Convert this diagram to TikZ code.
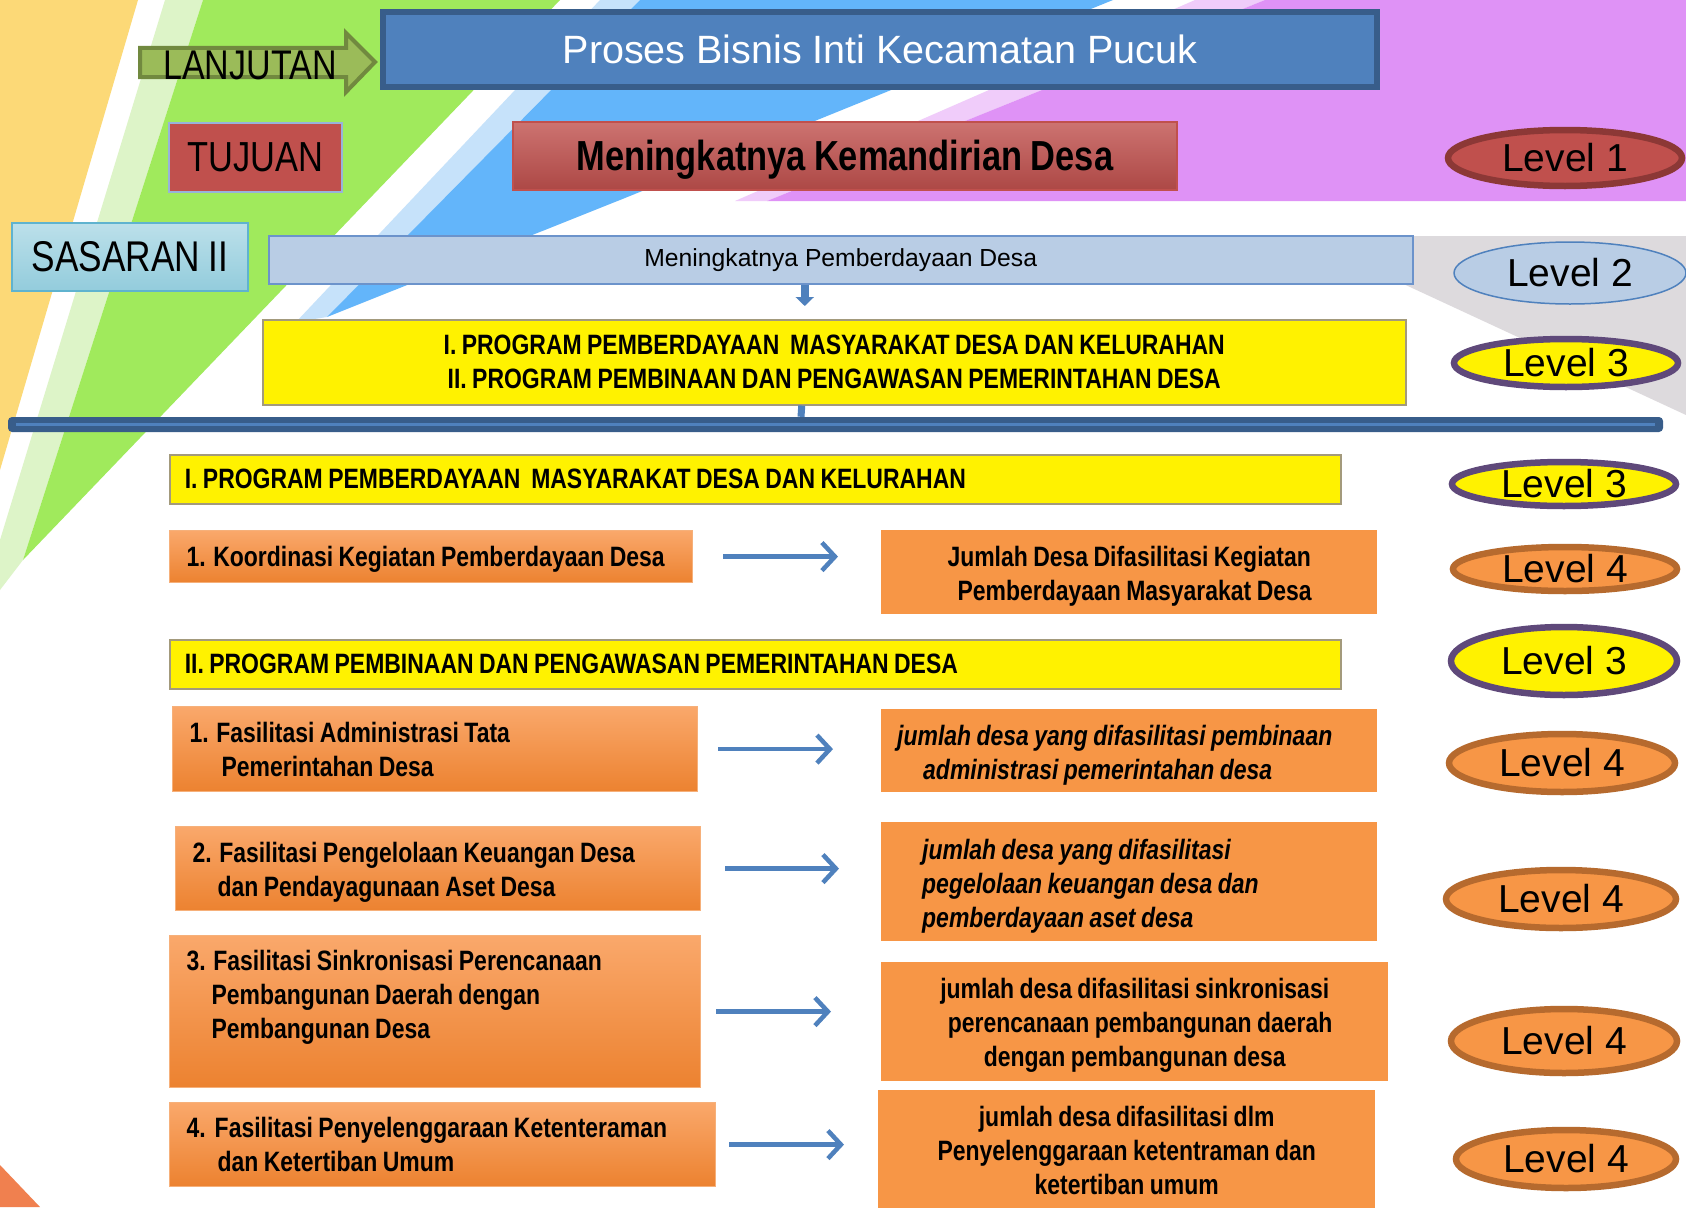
\documentclass[tikz,border=0pt]{standalone}
\usepackage{fontspec}
\setmainfont{Liberation Sans}
\newfontfamily\narrowfont[FakeStretch=0.82, WordSpace=0.85]{Liberation Sans}
\usetikzlibrary{shapes.geometric, arrows.meta}

\definecolor{bgyellow}{HTML}{FCD977}
\definecolor{bggreen}{HTML}{A0EA5C}
\definecolor{bgpalegreen}{HTML}{DDF4C8}
\definecolor{bgblue}{HTML}{63B5FA}
\definecolor{bglightblue}{HTML}{C6E2FA}
\definecolor{bgpurple}{HTML}{DF92F6}
\definecolor{bglightpurple}{HTML}{F0CCFA}
\definecolor{bggray}{HTML}{DDDADD}
\definecolor{bgorange}{HTML}{F0804F}
\definecolor{titleblue}{HTML}{4F81BD}
\definecolor{darkblue}{HTML}{385D8A}
\definecolor{olivefill}{HTML}{9BBB59}
\definecolor{oliveline}{HTML}{71893F}
\definecolor{brick}{HTML}{C0504D}
\definecolor{darkbrick}{HTML}{8C3836}
\definecolor{paleblue}{HTML}{B9CDE5}
\definecolor{paleline}{HTML}{6C93CB}
\definecolor{aquatop}{HTML}{BCE0EA}
\definecolor{aquabot}{HTML}{93CCDC}
\definecolor{aqualine}{HTML}{5FB3CF}
\definecolor{progline}{HTML}{A39A7C}
\definecolor{orfill}{HTML}{F79646}
\definecolor{ortop}{HTML}{FAA86B}
\definecolor{orbot}{HTML}{EC8230}
\definecolor{orborder}{HTML}{F6B07A}
\definecolor{orline}{HTML}{B66A2E}
\definecolor{lvlpurple}{HTML}{5F497A}

\tikzstyle{lvl}=[ellipse, inner sep=0pt, line width=6.5pt, font={\fontsize{39}{47}\selectfont}]
\tikzstyle{lvlfour}=[lvl, fill=orfill, draw=orline]
\tikzstyle{lvlthree}=[lvl, fill=yellow, draw=lvlpurple]
\tikzstyle{kbox}=[rectangle, anchor=north west, inner xsep=17pt, inner ysep=0pt, top color=ortop, bottom color=orbot, draw=orborder, line width=1.2pt, align=flush left, font={\narrowfont\bfseries\fontsize{28}{34}\selectfont}]
\tikzstyle{jbox}=[rectangle, anchor=north west, inner ysep=0pt, fill=orfill, font={\narrowfont\bfseries\fontsize{28}{34}\selectfont}]
\tikzstyle{progbox}=[rectangle, anchor=north west, inner xsep=15pt, inner ysep=0pt, fill=yellow, draw=progline, line width=1.5pt, font={\narrowfont\bfseries\fontsize{28}{34}\selectfont}]
\tikzstyle{flow}=[titleblue, line width=4.5pt, -{Straight Barb[length=13pt,width=28pt]}]
\tikzstyle{downarrow}=[titleblue, line width=8pt, -{Triangle[length=9pt,width=18pt]}]

\begin{document}
\begin{tikzpicture}[x=1pt,y=-1pt]
\useasboundingbox (0,0) rectangle (1686,1207);
% background
\fill[white] (0,0) rectangle (1686,1207);
\fill[bgyellow] (0,0)--(138,0)--(0,470)--cycle;
\fill[bgpalegreen] (165,0)--(203,0)--(23,560)--(0,590)--(0,540)--cycle;
\fill[bggreen] (203,0)--(560,0)--(23,560)--cycle;
\fill[bglightblue] (600,0)--(640,0)--(327,317)--(296,322)--cycle;
\fill[bgblue] (640,0)--(1113,0)--(625,198)--(327,317)--cycle;
\fill[bglightpurple] (1195,0)--(1265,0)--(767,201)--(735,201)--cycle;
\fill[bgpurple] (1265,0)--(1686,0)--(1686,201)--(767,201)--cycle;
\fill[bggray] (1300,236)--(1686,236)--(1686,415)--cycle;
\fill[bgorange] (0,1165)--(40,1207)--(0,1207)--cycle;

% header
\filldraw[fill=olivefill, draw=oliveline, line width=4pt] (140,48)--(346,48)--(346,33)--(375,62)--(346,92)--(346,77)--(140,77)--cycle;
\node[anchor=base, font={\narrowfont\fontsize{41.5}{50}\selectfont}] (lanj) at (250,79) {LANJUTAN};
\node[anchor=north west, fill=titleblue, draw=darkblue, line width=6pt, minimum width=994pt, minimum height=75pt, text=white, font={\fontsize{39.5}{47}\selectfont}] (title) at (380,9) {Proses Bisnis Inti Kecamatan Pucuk};

\node[anchor=north west, fill=brick, draw=paleline!70, line width=1.5pt, minimum width=173pt, minimum height=69pt, font={\narrowfont\fontsize{42}{50}\selectfont}] (tujuan) at (168,122) {TUJUAN};
\node[anchor=north west, top color=brick!80!white, bottom color=brick!90!black, draw=brick, line width=1.5pt, minimum width=664pt, minimum height=68pt, text depth=0pt, font={\narrowfont\bfseries\fontsize{42}{50}\selectfont}] (mandiri) at (512,121) {Meningkatnya Kemandirian Desa};

\node[anchor=north west, top color=aquatop, bottom color=aquabot, draw=aqualine, line width=1.5pt, minimum width=236pt, minimum height=68pt, font={\narrowfont\fontsize{43}{50}\selectfont}] (sasaran) at (11,222) {SASARAN II};
\node[anchor=north west, fill=paleblue, draw=paleline, line width=1.5pt, minimum width=1144pt, minimum height=48pt, font={\fontsize{24.7}{30}\selectfont}] (pemb) at (268,235) {Meningkatnya Pemberdayaan Desa};

\node[progbox, align=center, minimum width=1143pt, minimum height=85pt] (prog) at (262,319) {I. PROGRAM PEMBERDAYAAN\ \ MASYARAKAT DESA DAN KELURAHAN\\II. PROGRAM PEMBINAAN DAN PENGAWASAN PEMERINTAHAN DESA};
\node[fill=darkblue, rounded corners=4pt, minimum width=1655pt, minimum height=15pt, inner sep=0pt] (bar) at (835.5,424.5) {};
\draw[titleblue, line width=3pt] ([xshift=8pt]bar.west) -- ([xshift=-8pt]bar.east);
\draw[downarrow] ([xshift=-36pt]pemb.south) -- ([xshift=-29.5pt,yshift=13pt]prog.north);
\draw[titleblue, line width=7pt] ([xshift=-32.5pt]prog.south) -- ([xshift=-34.5pt]bar.north);

% program I
\node[progbox, align=flush left, minimum width=1171pt, text width=1141pt, minimum height=49pt] (progA) at (169,454) {I. PROGRAM PEMBERDAYAAN\ \ MASYARAKAT DESA DAN KELURAHAN};
\node[kbox, minimum width=523pt, text width=489pt, minimum height=52pt, text depth=0pt] (k1) at (169,530) {\mbox{1. Koordinasi Kegiatan Pemberdayaan Desa}};
\node[jbox, inner xsep=10pt, text width=476pt, align=flush center, minimum height=84pt] (j1) at (881,530) {\rule{0pt}{28pt}Jumlah Desa Difasilitasi Kegiatan\\ \ \ Pemberdayaan Masyarakat Desa};

% program II
\node[progbox, align=flush left, minimum width=1171pt, text width=1141pt, minimum height=49pt] (progB) at (169,639) {II. PROGRAM PEMBINAAN DAN PENGAWASAN PEMERINTAHAN DESA};
\node[kbox, minimum width=525pt, text width=491pt, minimum height=85pt] (k2) at (172,706) {1. Fasilitasi Administrasi Tata\\\hspace*{32pt}Pemerintahan Desa};
\node[jbox, inner xsep=16pt, text width=464pt, align=flush left, minimum height=83pt, font={\narrowfont\bfseries\itshape\fontsize{28}{34}\selectfont}] (j2) at (881,709) {\rule{0pt}{29pt}jumlah desa yang difasilitasi pembinaan\\\hspace*{26pt}administrasi pemerintahan desa};
\node[kbox, minimum width=525pt, text width=491pt, minimum height=84pt] (k3) at (175,826) {\rule{0pt}{28pt}2. Fasilitasi Pengelolaan Keuangan Desa\\\hspace*{25pt}dan Pendayagunaan Aset Desa};
\node[jbox, inner xsep=41pt, text width=414pt, align=flush left, minimum height=119pt, font={\narrowfont\bfseries\itshape\fontsize{28}{34}\selectfont}] (j3) at (881,822) {\rule{0pt}{30pt}jumlah desa yang difasilitasi\\pegelolaan keuangan desa dan\\pemberdayaan aset desa};
\node[kbox, minimum width=531pt, text width=497pt, minimum height=152pt] (k4) at (169,935) {3. Fasilitasi Sinkronisasi Perencanaan\\\hspace*{25pt}Pembangunan Daerah dengan\\\hspace*{25pt}Pembangunan Desa\\\mbox{}};
\node[jbox, inner xsep=10pt, text width=487pt, align=flush center, minimum height=119pt] (j4) at (881,962) {\rule{0pt}{27pt}jumlah desa difasilitasi sinkronisasi\\ \ \ perencanaan pembangunan daerah\\dengan pembangunan desa};
\node[kbox, minimum width=546pt, text width=512pt, minimum height=84pt] (k5) at (169,1102) {4.\hspace{9pt}Fasilitasi Penyelenggaraan Ketenteraman\\\hspace*{31pt}dan Ketertiban Umum};
\node[jbox, inner xsep=10pt, text width=477pt, align=flush center, minimum height=121pt] (j5) at (878,1090) {jumlah desa difasilitasi dlm\\Penyelenggaraan ketentraman dan\\ketertiban umum};

\foreach \a/\b/\s/\e in {k1/j1/30pt/43pt, k2/j2/20pt/48pt, k3/j3/24pt/42pt, k4/j4/15pt/50pt, k5/j5/13pt/34pt}
	\draw[flow, shorten <=\s, shorten >=\e] (\a.east) -- (\a.east -| \b.west);

% levels
\node[lvl, fill=brick, draw=darkbrick, minimum width=234pt, minimum height=56pt] (lv1) at (1565,158) {Level 1};
\node[lvl, fill=paleblue, draw=titleblue, line width=1.5pt, minimum width=232pt, minimum height=62pt] (lv2) at (1570,273) {Level 2};
\node[lvlthree, minimum width=224pt, minimum height=48pt] (lv3a) at (1566,363) {Level 3};
\node[lvlthree, minimum width=224pt, minimum height=44pt] (lv3b) at (1564,484) {Level 3};
\node[lvlthree, minimum width=226pt, minimum height=68pt] (lv3c) at (1564,661) {Level 3};
\foreach \n/\x/\y/\w/\h in {a/1565/569/224pt/44pt, b/1562/763/226pt/58pt, c/1561/899/230pt/58pt, d/1564/1041/226pt/64pt, e/1566/1159/220pt/58pt}
	\node[lvlfour, minimum width=\w, minimum height=\h] (lv4\n) at (\x,\y) {Level 4};
\end{tikzpicture}
\end{document}
